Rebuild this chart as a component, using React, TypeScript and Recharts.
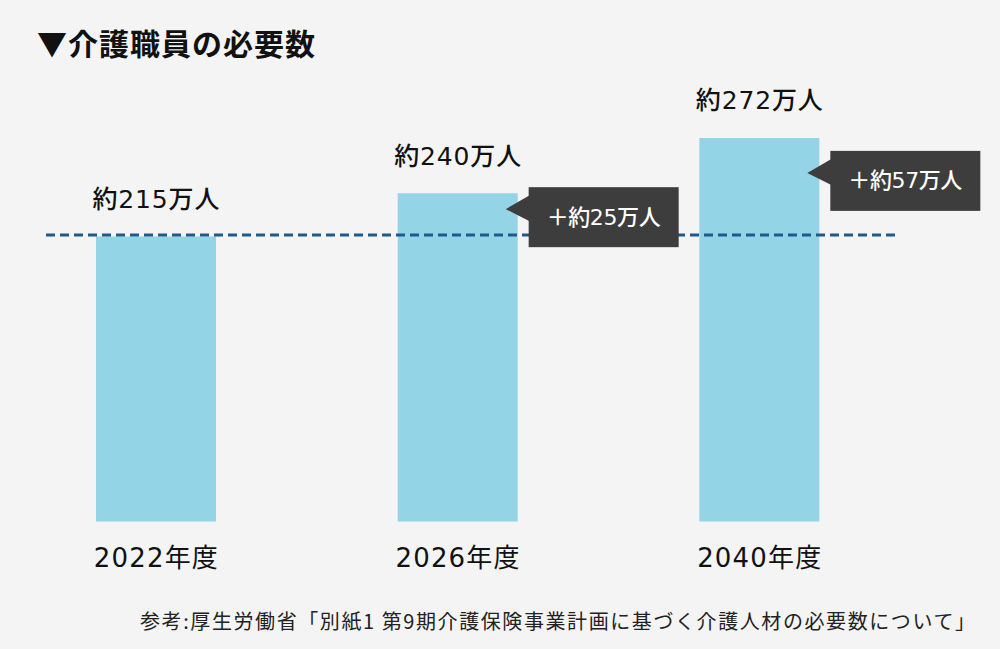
import React from "react";
import { Bar, BarChart, LabelList, ReferenceLine, XAxis, YAxis } from "recharts";

const categories = ["2022年度", "2026年度", "2040年度"];
const values = [215, 240, 272];
const valueLabels = ["約215万人", "約240万人", "約272万人"];
const increaseLabels = ["", "＋約25万人", "＋約57万人"];
const baselineValue = 215;
const title = "▼介護職員の必要数";
const source =
  "参考:厚生労働省「別紙1 第9期介護保険事業計画に基づく介護人材の必要数について」";

const data = categories.map((name, i) => ({
  name,
  value: values[i],
  label: valueLabels[i],
  inc: increaseLabels[i],
}));

const CJK = '"Noto Sans CJK JP", "Noto Sans", sans-serif';
const MIXED = '"DejaVu Sans", "Noto Sans CJK JP", sans-serif';
// callout box centre, px below the bar top
const calloutDy = [0, 24, 43];

function ValueLabel(props: any) {
  const { x, y, width, value } = props;
  return (
    <text
      x={Number(x) + Number(width) / 2}
      y={Number(y) - 37}
      textAnchor="middle"
      dominantBaseline="central"
      fontFamily={MIXED}
      fontSize={25}
      fontWeight={500}
      fill="#111"
      textLength={127}
      lengthAdjust="spacing"
    >
      {value}
    </text>
  );
}

function Callout(props: any) {
  const { x, y, width, value, index } = props;
  if (!value) return null;
  const right = Number(x) + Number(width);
  const left = right + 11;
  const cy = Number(y) + calloutDy[index];
  const w = 150;
  const h = 60;
  return (
    <g>
      <polygon
        points={`${left + 1},${cy - 22} ${right - 12},${cy - 8} ${left + 1},${cy + 4}`}
        fill="#3d3d3d"
      />
      <rect x={left} y={cy - h / 2} width={w} height={h} fill="#3d3d3d" />
      <text
        x={left + w / 2}
        y={cy}
        textAnchor="middle"
        dominantBaseline="central"
        fontFamily={MIXED}
        fontSize={22}
        fontWeight={500}
        fill="#fff"
        textLength={114}
        lengthAdjust="spacing"
      >
        {value}
      </text>
    </g>
  );
}

function CategoryTick(props: any) {
  const { x, y, payload } = props;
  return (
    <text
      x={x}
      y={Number(y) + 36}
      textAnchor="middle"
      dominantBaseline="central"
      fontFamily={MIXED}
      fontSize={26}
      fill="#111"
      textLength={124}
      lengthAdjust="spacing"
    >
      {payload.value}
    </text>
  );
}

function DashedLine(props: any) {
  const { x1, x2, y1 } = props;
  return (
    <line
      x1={Number(x1) + 41}
      x2={Number(x2) - 13}
      y1={Number(y1) - 1.5}
      y2={Number(y1) - 1.5}
      stroke="#1f5a8c"
      strokeWidth={3}
      strokeDasharray="9 5"
    />
  );
}

export default function App() {
  return (
    <div
      style={{
        position: "fixed",
        left: 0,
        top: 0,
        width: 1000,
        height: 649,
        background: "#f4f4f4",
        fontFamily: CJK,
      }}
    >
      <div
        style={{
          position: "absolute",
          left: 37,
          top: 21,
          fontSize: 30,
          fontWeight: 700,
          letterSpacing: 1,
          color: "#111",
          lineHeight: "42px",
          whiteSpace: "nowrap",
        }}
      >
        {title}
      </div>
      <div style={{ position: "absolute", left: 0, top: 0 }}>
        <BarChart
          width={1000}
          height={649}
          data={data}
          margin={{ top: 89.5, right: 90, bottom: 67.5, left: 5 }}
        >
          <XAxis
            dataKey="name"
            axisLine={false}
            tickLine={false}
            tickSize={0}
            tickMargin={0}
            height={60}
            interval={0}
            tick={<CategoryTick />}
          />
          <YAxis hide domain={[50, 300]} />
          <ReferenceLine y={baselineValue} shape={<DashedLine />} />
          <Bar dataKey="value" fill="#93d4e6" barSize={120} isAnimationActive={false}>
            <LabelList dataKey="label" content={<ValueLabel />} />
            <LabelList dataKey="inc" content={<Callout />} />
          </Bar>
        </BarChart>
      </div>
      <svg
        width={1000}
        height={40}
        style={{ position: "absolute", left: 0, top: 600 }}
      >
        <text
          x={140}
          y={20}
          dominantBaseline="central"
          fontFamily={CJK}
          fontSize={20}
          fill="#222"
          textLength={835}
          lengthAdjust="spacing"
        >
          {source}
        </text>
      </svg>
    </div>
  );
}
